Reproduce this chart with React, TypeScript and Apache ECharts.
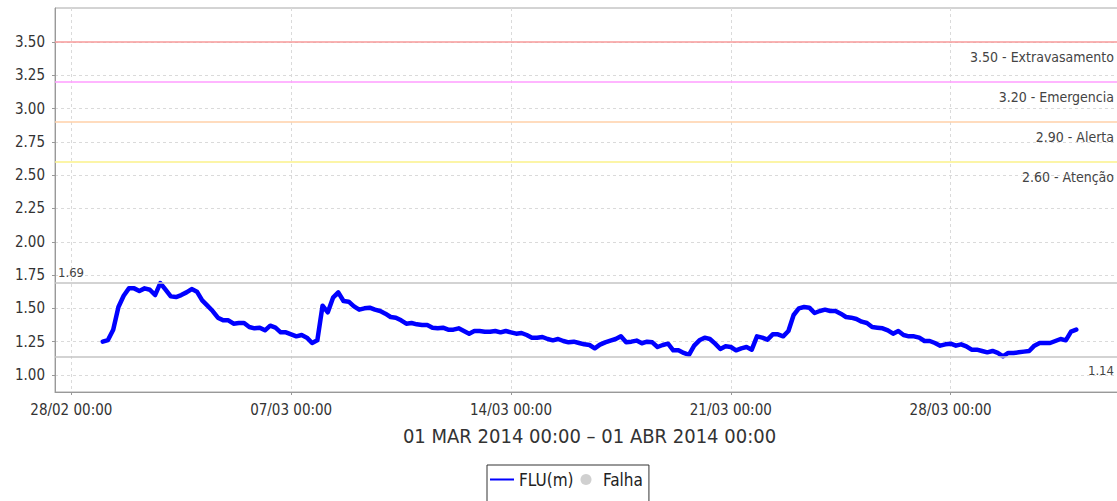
import React, { useEffect, useRef } from "react";
import * as echarts from "echarts";

// FLU(m) readings every 4 hours from 01/03/2014 00:00 to 01/04/2014 00:00
const FLU: number[] = [
  1.25, 1.262, 1.34, 1.51, 1.595, 1.65, 1.65, 1.63, 1.65, 1.64,
  1.6, 1.69, 1.64, 1.59, 1.585, 1.6, 1.62, 1.645, 1.625, 1.56,
  1.52, 1.48, 1.43, 1.41, 1.41, 1.385, 1.39, 1.39, 1.36, 1.35,
  1.355, 1.335, 1.37, 1.355, 1.32, 1.32, 1.305, 1.29, 1.3, 1.28,
  1.24, 1.26, 1.52, 1.47, 1.58, 1.62, 1.555, 1.55, 1.515, 1.49,
  1.5, 1.505, 1.49, 1.48, 1.46, 1.435, 1.43, 1.41, 1.385, 1.39,
  1.38, 1.375, 1.375, 1.355, 1.35, 1.355, 1.34, 1.34, 1.35, 1.33,
  1.31, 1.33, 1.33, 1.325, 1.325, 1.33, 1.32, 1.33, 1.32, 1.31,
  1.315, 1.3, 1.28, 1.28, 1.285, 1.27, 1.26, 1.27, 1.255, 1.245,
  1.25, 1.24, 1.23, 1.225, 1.2, 1.228, 1.245, 1.258, 1.27, 1.29,
  1.245, 1.25, 1.258, 1.238, 1.25, 1.245, 1.21, 1.225, 1.235, 1.185,
  1.185, 1.165, 1.15, 1.22, 1.26, 1.28, 1.27, 1.235, 1.195, 1.215,
  1.21, 1.185, 1.2, 1.21, 1.19, 1.29, 1.28, 1.265, 1.305, 1.305,
  1.29, 1.33, 1.45, 1.5, 1.51, 1.505, 1.465, 1.48, 1.49, 1.48,
  1.48, 1.46, 1.435, 1.43, 1.42, 1.4, 1.39, 1.36, 1.355, 1.35,
  1.335, 1.31, 1.33, 1.3, 1.29, 1.29, 1.28, 1.255, 1.255, 1.24,
  1.22, 1.23, 1.235, 1.22, 1.23, 1.215, 1.19, 1.19, 1.18, 1.17,
  1.18, 1.165, 1.14, 1.165, 1.165, 1.17, 1.175, 1.18, 1.22, 1.24,
  1.24, 1.24, 1.255, 1.27, 1.26, 1.325, 1.34,
];
const FALHA: number[][] = [];

const START = new Date(2014, 2, 1, 0, 0).getTime();
const STEP_HOURS = 4;
const HOUR = 3600 * 1000;
const DAY = 24 * HOUR;

const X_TICKS = [
  new Date(2014, 1, 28).getTime(),
  new Date(2014, 2, 7).getTime(),
  new Date(2014, 2, 14).getTime(),
  new Date(2014, 2, 21).getTime(),
  new Date(2014, 2, 28).getTime(),
];
const Y_TICKS = [1.0, 1.25, 1.5, 1.75, 2.0, 2.25, 2.5, 2.75, 3.0, 3.25, 3.5];

const THRESHOLDS = [
  { value: 3.5, name: "Extravasamento", color: "#f79a9a" },
  { value: 3.2, name: "Emergencia", color: "#ff9cff" },
  { value: 2.9, name: "Alerta", color: "#ffd0a8" },
  { value: 2.6, name: "Atenção", color: "#fbf28a" },
];
const MAX_VALUE = 1.69;
const MIN_VALUE = 1.14;

const X_TITLE = "01 MAR 2014 00:00 – 01 ABR 2014 00:00";

const FONT = "'DejaVu Sans Condensed', 'DejaVu Sans', sans-serif";

const pad = (n: number) => (n < 10 ? "0" + n : "" + n);

const LINE_ICON = "path://M0,0L0.01,0Z M0,11L0.01,11Z M0,4.5L24,4.5L24,6.5L0,6.5Z";

export default function App() {
  const ref = useRef<HTMLDivElement>(null);
  useEffect(() => {
    if (!ref.current) return;
    const chart = echarts.init(ref.current, undefined, { renderer: "svg" });
    const data = FLU.map((v, i) => [START + i * STEP_HOURS * HOUR, v]);
    const end = START + (FLU.length - 1) * STEP_HOURS * HOUR;
    const margin = 1.52 * DAY;

    const markData: any[] = THRESHOLDS.map((t) => ({
      yAxis: t.value,
      lineStyle: { color: t.color, width: 1.5, type: "solid" },
      label: {
        show: true,
        position: "insideEndBottom",
        formatter: t.value.toFixed(2) + " - " + t.name,
        color: "#444",
        fontSize: 14,
        fontFamily: FONT,
        distance: [10, 8],
      },
    }));
    markData.push({
      yAxis: MAX_VALUE,
      lineStyle: { color: "#c4c4c4", width: 1.5, type: "solid" },
      label: {
        show: true,
        position: "insideStartTop",
        formatter: MAX_VALUE.toFixed(2),
        color: "#444",
        fontSize: 13,
        fontFamily: FONT,
        distance: [3, 4],
      },
    });
    markData.push({
      yAxis: MIN_VALUE,
      lineStyle: { color: "#c4c4c4", width: 1.5, type: "solid" },
      label: {
        show: true,
        position: "insideEndBottom",
        formatter: MIN_VALUE.toFixed(2),
        color: "#444",
        fontSize: 13,
        fontFamily: FONT,
        distance: [10, 8],
      },
    });

    chart.setOption({
      animation: false,
      backgroundColor: "#ffffff",
      grid: {
        left: 55,
        top: 8,
        right: 1,
        bottom: 109,
        show: true,
        borderColor: "#a8a8a8",
        borderWidth: 1,
      },
      legend: {
        left: 487,
        top: 465,
        orient: "horizontal",
        data: [
          { name: "FLU(m)", icon: LINE_ICON, itemStyle: { color: "#0000ff", borderWidth: 0 } },
          { name: "Falha", icon: "circle", itemStyle: { color: "#c4c4c4", borderWidth: 0 } },
        ],
        itemWidth: 24,
        itemHeight: 11,
        itemGap: 7,
        padding: [6, 6, 14, 3],
        borderColor: "#333",
        borderWidth: 1,
        borderRadius: 0,
        textStyle: { fontSize: 17, color: "#222", fontFamily: FONT },
      },
      xAxis: {
        type: "value",
        min: START - margin,
        max: end + margin,
        name: X_TITLE,
        nameLocation: "middle",
        nameGap: 34,
        nameTextStyle: { fontSize: 20, color: "#333", fontFamily: FONT },
        axisLine: { show: true, lineStyle: { color: "#999", width: 1 } },
        axisTick: { show: true, length: 3, lineStyle: { color: "#999" }, customValues: X_TICKS },
        axisLabel: {
          customValues: X_TICKS,
          color: "#333",
          fontSize: 15,
          fontFamily: FONT,
          margin: 10,
          showMinLabel: true,
          showMaxLabel: true,
          formatter: (v: number) => {
            const d = new Date(v);
            return pad(d.getDate()) + "/" + pad(d.getMonth() + 1) + " " + pad(d.getHours()) + ":" + pad(d.getMinutes());
          },
        },
        splitLine: { show: true, lineStyle: { color: "#dadada", type: [3, 3], width: 1 } },
      },
      yAxis: {
        type: "value",
        min: 0.872,
        max: 3.755,
        axisLine: { show: true, lineStyle: { color: "#999", width: 1 } },
        axisTick: { show: true, length: 3, lineStyle: { color: "#999" }, customValues: Y_TICKS },
        axisLabel: {
          customValues: Y_TICKS,
          color: "#333",
          fontSize: 15,
          fontFamily: FONT,
          margin: 10,
          formatter: (v: number) => v.toFixed(2),
        },
        splitLine: { show: true, lineStyle: { color: "#dadada", type: [3, 3], width: 1 } },
      },
      series: [
        {
          name: "FLU(m)",
          type: "line",
          data,
          symbol: "none",
          showSymbol: false,
          smooth: false,
          color: "#0000ff",
          lineStyle: { color: "#0000ff", width: 4.5, join: "round", cap: "round" },
          markLine: {
            silent: true,
            symbol: ["none", "none"],
            data: markData,
          },
          z: 3,
        },
        {
          name: "Falha",
          type: "scatter",
          data: FALHA,
          color: "#c4c4c4",
          symbol: "circle",
        },
      ],
    });
    return () => chart.dispose();
  }, []);
  return (
    <div style={{ position: "fixed", left: 0, top: 0, width: 1117, height: 501, overflow: "hidden", background: "#fff" }}>
      <div ref={ref} style={{ width: 1125, height: 501 }} />
    </div>
  );
}
